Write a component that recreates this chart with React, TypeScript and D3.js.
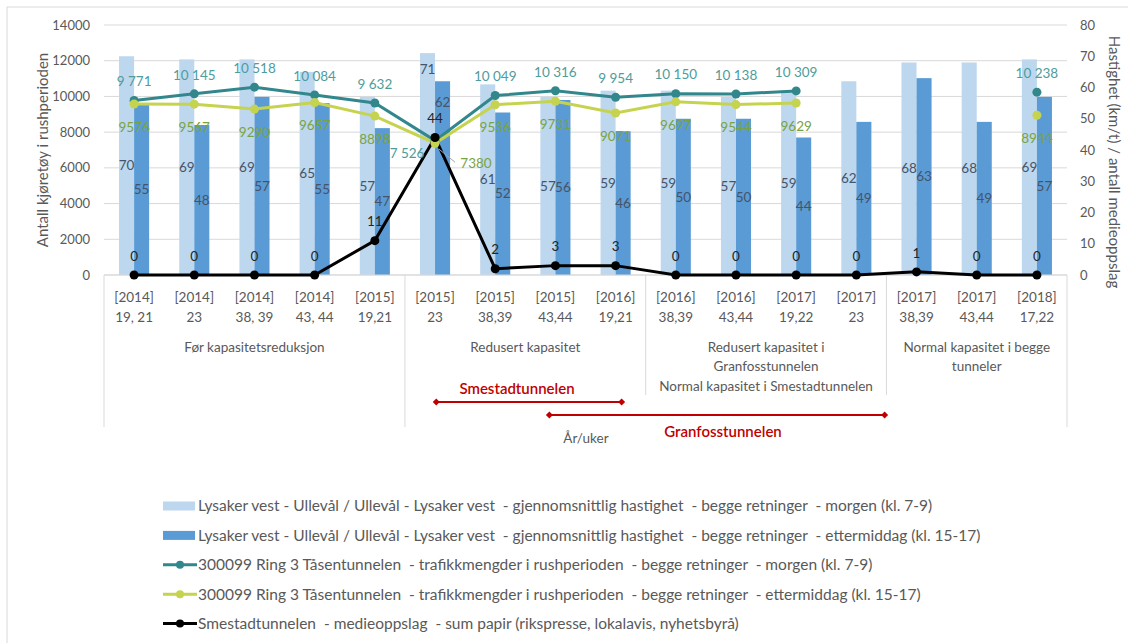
import React from 'react';
import * as d3 from 'd3';

const years = ['[2014]','[2014]','[2014]','[2014]','[2015]','[2015]','[2015]','[2015]','[2016]','[2016]','[2016]','[2017]','[2017]','[2017]','[2017]','[2018]'];
const weeks = ['19, 21','23','38, 39','43, 44','19,21','23','38,39','43,44','19,21','38,39','43,44','19,22','23','38,39','43,44','17,22'];
const speedMorning = [70,69,69,65,57,71,61,57,59,59,57,59,62,68,68,69];
const speedEvening = [55,48,57,55,47,62,52,56,46,50,50,44,49,63,49,57];
const trafficMorning: (number|null)[] = [9771,10145,10518,10084,9632,7526,10049,10316,9954,10150,10138,10309,null,null,null,10238];
const trafficEvening: (number|null)[] = [9576,9567,9290,9657,8898,7380,9536,9731,9071,9697,9544,9629,null,null,null,8944];
const media = [0,0,0,0,11,44,2,3,3,0,0,0,0,1,0,0];
const leftTicks = [0,2000,4000,6000,8000,10000,12000,14000];
const rightTicks = [0,10,20,30,40,50,60,70,80];
const groupLabels = [
  ['Før kapasitetsreduksjon'],
  ['Redusert kapasitet'],
  ['Redusert kapasitet i','Granfosstunnelen','Normal kapasitet i Smestadtunnelen'],
  ['Normal kapasitet i begge','tunneler'],
];
const groupSizes = [5,4,4,3];
const legendLabels = [
  'Lysaker vest - Ullevål / Ullevål - Lysaker vest  - gjennomsnittlig hastighet  - begge retninger  - morgen (kl. 7-9)',
  'Lysaker vest - Ullevål / Ullevål - Lysaker vest  - gjennomsnittlig hastighet  - begge retninger  - ettermiddag (kl. 15-17)',
  '300099 Ring 3 Tåsentunnelen  - trafikkmengder i rushperioden  - begge retninger  - morgen (kl. 7-9)',
  '300099 Ring 3 Tåsentunnelen  - trafikkmengder i rushperioden  - begge retninger  - ettermiddag (kl. 15-17)',
  'Smestadtunnelen  - medieoppslag  - sum papir (rikspresse, lokalavis, nyhetsbyrå)',
];
const periods = [
  { label: 'Smestadtunnelen', from: 5.52, to: 8.6 },
  { label: 'Granfosstunnelen', from: 7.4, to: 12.97 },
];

const C = {
  light: '#BDD7EE', dark: '#5B9BD5', teal: '#31878C', yellow: '#C6D34E', black: '#000000',
  tealText: '#4E9C9C', yellowText: '#79A343', barText: '#44546A', axis: '#595959', grid: '#D9D9D9', red: '#C00000',
};
const FONT = "Lato, 'Open Sans', sans-serif";

export default function App() {
  const W = 1128, H = 643;
  const x0 = 104, x1 = 1067, yTop = 25, yBot = 275;
  const idx = d3.range(years.length);
  const xb = d3.scaleBand<number>().domain(idx).range([x0, x1]).paddingInner(0.5).paddingOuter(0.25);
  const xs = d3.scaleBand<string>().domain(['m','e']).range([0, xb.bandwidth()]);
  const xi = d3.scaleLinear().domain([0, years.length]).range([x0, x1]);
  const cx = (i: number) => (xb(i) as number) + xb.bandwidth() / 2;
  const yL = d3.scaleLinear().domain([0, 14000]).range([yBot, yTop]);
  const yR = d3.scaleLinear().domain([0, 80]).range([yBot, yTop]);
  const lineL = d3.line<number|null>().defined(d => d != null).x((_, i) => cx(i)).y(d => yL(d as number));
  const lineR = d3.line<number>().x((_, i) => cx(i)).y(d => yR(d));
  const fmtSpace = (v: number) => d3.format(',')(v).replace(/,/g, ' ');

  const bounds: number[] = [0];
  groupSizes.forEach(s => bounds.push(bounds[bounds.length - 1] + s));
  const boundEnds = [427, 427, 395, 395, 427];

  const legendY = (i: number) => 506 + i * 29.4;

  // bar label y: centre of bar, except the 2015/23 pair which the reference lifts to the bar tops
  const barLabelY = (v: number, i: number, kind: 'm' | 'e') => {
    if (i === 5) return yR(v) + (kind === 'm' ? 16 : 21);
    return (yBot + yR(v)) / 2;
  };

  return (
    <svg width={W} height={H} style={{ position: 'absolute', left: 0, top: 0, background: '#fff' }} fontFamily={FONT}>
      <rect x={7} y={7} width={1140} height={660} fill="#fff" stroke="#D9D9D9" />
      {leftTicks.map(t => (
        <line key={t} x1={x0} x2={x1} y1={yL(t)} y2={yL(t)} stroke={C.grid} strokeWidth={1} />
      ))}
      {leftTicks.map(t => (
        <text key={'l'+t} x={90} y={yL(t)} dy="0.35em" textAnchor="end" fontSize={13} fill={C.axis}>{t}</text>
      ))}
      {rightTicks.map(t => (
        <text key={'r'+t} x={1080} y={yR(t)} dy="0.35em" textAnchor="start" fontSize={13} fill={C.axis}>{t}</text>
      ))}
      <text transform={`translate(43,${(yTop + yBot) / 2}) rotate(-90)`} textAnchor="middle" dy="0.35em" fontSize={15} fill={C.axis}>Antall kjøretøy i rushperioden</text>
      <text transform={`translate(1114,${(yTop + yBot) / 2 + 12}) rotate(90)`} textAnchor="middle" dy="0.35em" fontSize={15} fill={C.axis}>Hastighet (km/t) / antall medieoppslag</text>

      {idx.map(i => (
        <g key={'b'+i}>
          <rect x={(xb(i) as number) + (xs('m') as number)} y={yR(speedMorning[i])} width={xs.bandwidth()} height={yBot - yR(speedMorning[i])} fill={C.light} />
          <rect x={(xb(i) as number) + (xs('e') as number)} y={yR(speedEvening[i])} width={xs.bandwidth()} height={yBot - yR(speedEvening[i])} fill={C.dark} />
        </g>
      ))}
      <line x1={x0} x2={x1} y1={yBot} y2={yBot} stroke={C.grid} />
      {bounds.map((b, k) => (
        <line key={'s'+k} x1={xi(b)} x2={xi(b)} y1={yBot} y2={boundEnds[k]} stroke={C.grid} />
      ))}
      {idx.map(i => (
        <g key={'c'+i}>
          <text x={cx(i)} y={297} dy="0.35em" textAnchor="middle" fontSize={13.5} fill={C.axis}>{years[i]}</text>
          <text x={cx(i)} y={317} dy="0.35em" textAnchor="middle" fontSize={13.5} fill={C.axis}>{weeks[i]}</text>
        </g>
      ))}
      {groupLabels.map((g, k) => (
        <g key={'g'+k}>
          {g.map((ln, j) => (
            <text key={j} x={(xi(bounds[k]) + xi(bounds[k + 1])) / 2} y={347 + j * 19.5} dy="0.35em" textAnchor="middle" fontSize={13.5} fill={C.axis}>{ln}</text>
          ))}
        </g>
      ))}
      {periods.map((p, k) => {
        const y = 402 + k * 13;
        const a = xi(p.from), b = xi(p.to);
        const dia = (x: number) => `M${x},${y - 3.5}L${x + 3.5},${y}L${x},${y + 3.5}L${x - 3.5},${y}Z`;
        return (
          <g key={'p'+k}>
            <line x1={a} x2={b} y1={y} y2={y} stroke={C.red} strokeWidth={2} />
            <path d={dia(a)} fill={C.red} />
            <path d={dia(b)} fill={C.red} />
          </g>
        );
      })}
      <text x={517} y={389} dy="0.35em" textAnchor="middle" fontSize={15} fontWeight={600} fill={C.red}>{periods[0].label}</text>
      <text x={723} y={432} dy="0.35em" textAnchor="middle" fontSize={15} fontWeight={600} fill={C.red}>{periods[1].label}</text>
      <text x={586} y={438} dy="0.35em" textAnchor="middle" fontSize={13.5} fill={C.axis}>År/uker</text>

      <path d={lineL(trafficMorning) || ''} fill="none" stroke={C.teal} strokeWidth={3} />
      <path d={lineL(trafficEvening) || ''} fill="none" stroke={C.yellow} strokeWidth={3} />
      <path d={lineR(media) || ''} fill="none" stroke={C.black} strokeWidth={3} />
      {trafficMorning.map((v, i) => v == null ? null : <circle key={'tm'+i} cx={cx(i)} cy={yL(v)} r={4.5} fill={C.teal} />)}
      {trafficEvening.map((v, i) => v == null ? null : <circle key={'te'+i} cx={cx(i)} cy={yL(v)} r={4.5} fill={C.yellow} />)}
      {media.map((v, i) => <circle key={'md'+i} cx={cx(i)} cy={yR(v)} r={4.5} fill={C.black} />)}

      {idx.map(i => (
        <g key={'bl'+i}>
          <text x={(xb(i) as number) + (xs('m') as number) + xs.bandwidth() / 2} y={barLabelY(speedMorning[i], i, 'm')} dy="0.35em" textAnchor="middle" fontSize={13.5} fill={C.barText}>{speedMorning[i]}</text>
          <text x={(xb(i) as number) + (xs('e') as number) + xs.bandwidth() / 2} y={barLabelY(speedEvening[i], i, 'e')} dy="0.35em" textAnchor="middle" fontSize={13.5} fill={C.barText}>{speedEvening[i]}</text>
        </g>
      ))}
      {trafficMorning.map((v, i) => {
        if (v == null) return null;
        const special = i === 5;
        return <text key={'tml'+i} x={cx(i) + (special ? -28 : 0)} y={yL(v) + (special ? 13 : -19)} dy="0.35em" textAnchor="middle" fontSize={13.5} fill={C.tealText}>{fmtSpace(v)}</text>;
      })}
      {trafficEvening.map((v, i) => {
        if (v == null) return null;
        if (i === 5) {
          return (
            <g key={'tel'+i}>
              <line x1={cx(i) + 4} y1={yL(v) + 6} x2={cx(i) + 20} y2={yL(v) + 19} stroke="#A6A6A6" strokeWidth={1} />
              <text x={cx(i) + 41} y={yL(v) + 20} dy="0.35em" textAnchor="middle" fontSize={13.5} fill={C.yellowText}>{v}</text>
            </g>
          );
        }
        return <text key={'tel'+i} x={cx(i)} y={yL(v) + 23} dy="0.35em" textAnchor="middle" fontSize={13.5} fill={C.yellowText}>{v}</text>;
      })}
      {media.map((v, i) => (
        <text key={'mdl'+i} x={cx(i)} y={yR(v) - 19} dy="0.35em" textAnchor="middle" fontSize={13.5} fill="#262626">{v}</text>
      ))}

      {legendLabels.map((lab, i) => {
        const y = legendY(i);
        let sym: React.ReactNode;
        if (i === 0) sym = <rect x={163} y={y - 4.5} width={32} height={9} fill={C.light} />;
        else if (i === 1) sym = <rect x={163} y={y - 4.5} width={32} height={9} fill={C.dark} />;
        else {
          const col = i === 2 ? C.teal : i === 3 ? C.yellow : C.black;
          sym = (
            <g>
              <line x1={163} x2={197} y1={y} y2={y} stroke={col} strokeWidth={3} />
              <circle cx={180} cy={y} r={4} fill={col} />
            </g>
          );
        }
        return (
          <g key={'lg'+i}>
            {sym}
            <text x={198} y={y} dy="0.35em" fontSize={15.5} fill={C.axis} style={{ whiteSpace: 'pre' }}>{lab}</text>
          </g>
        );
      })}
    </svg>
  );
}
